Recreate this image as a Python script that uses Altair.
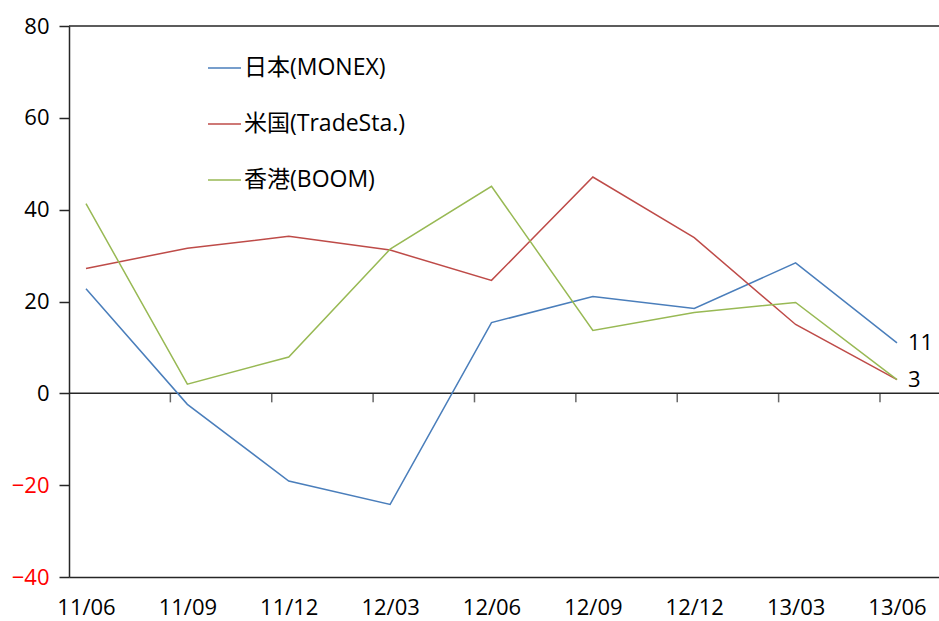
import altair as alt
import pandas as pd

# Quarter labels along the bottom axis
categories = ["11/06", "11/09", "11/12", "12/03", "12/06", "12/09", "12/12", "13/03", "13/06"]

# Series names and values per quarter
series_names = ["日本(MONEX)", "米国(TradeSta.)", "香港(BOOM)"]
japan = [22.8, -2.4, -19.1, -24.2, 15.4, 21.1, 18.5, 28.4, 11]
usa = [27.2, 31.6, 34.2, 31.2, 24.6, 47.1, 33.9, 15.0, 3]
hongkong = [41.3, 2.0, 7.9, 31.4, 45.1, 13.7, 17.6, 19.8, 3]

# Y axis tick values
y_ticks = [-40, -20, 0, 20, 40, 60, 80]

colors = ["#4a7ebb", "#be4b48", "#98b954"]
FONT = "Open Sans, Noto Sans CJK JP, sans-serif"
INK = "#262626"

rows = []
for name, vals in zip(series_names, [japan, usa, hongkong]):
    for i, (c, v) in enumerate(zip(categories, vals)):
        rows.append({"series": name, "cat": c, "idx": i, "value": v})
df = pd.DataFrame(rows)

x_scale = alt.Scale(type="point", domain=categories, padding=0.291, align=0.288)
y_scale = alt.Scale(domain=[y_ticks[0], y_ticks[-1]], nice=False, zero=False)

left_axis = alt.Axis(
    values=y_ticks, grid=False, title=None,
    domainColor=INK, domainWidth=1.5,
    tickColor=INK, tickWidth=1.5, tickSize=10,
    labelFont=FONT, labelFontSize=22, labelPadding=10,
    labelColor=alt.expr("datum.value < 0 ? '#ff0000' : '#000000'"),
)
bottom_axis = alt.Axis(
    ticks=False, grid=False, title=None, labelAngle=0,
    labelAlign="center", labelFlush=False, labelBound=False, labelOverlap=False,
    domainColor=INK, domainWidth=1.5,
    labelFont=FONT, labelFontSize=22, labelPadding=30, labelColor="#000000",
)

base = alt.Chart(df)

lines = base.mark_line(strokeWidth=1.5).encode(
    x=alt.X("cat:N", scale=x_scale, sort=categories, axis=bottom_axis),
    y=alt.Y("value:Q", scale=y_scale, axis=left_axis),
    color=alt.Color("series:N", scale=alt.Scale(domain=series_names, range=colors), legend=None),
    order=alt.Order("idx:Q"),
)

# Frame line at the top of the value range
top_rule = alt.Chart(pd.DataFrame({"v": [y_ticks[-1]]})).mark_rule(
    color=INK, strokeWidth=1.5
).encode(y=alt.Y("v:Q", scale=y_scale))

# Zero line with category ticks hanging below it
zero_rule = alt.Chart(pd.DataFrame({"v": [0]})).mark_rule(
    color=INK, strokeWidth=1.5
).encode(y=alt.Y("v:Q", scale=y_scale))

cat_ticks = alt.Chart(pd.DataFrame({"cat": categories[1:], "v": [0] * (len(categories) - 1)})).mark_tick(
    orient="vertical", size=9, thickness=1.5, color=INK, xOffset=-17, yOffset=4.5
).encode(
    x=alt.X("cat:N", scale=x_scale, sort=categories),
    y=alt.Y("v:Q", scale=y_scale),
)

# Value labels at the last quarter
end_labels = base.transform_filter(
    (alt.datum.cat == categories[-1]) & (alt.datum.series != series_names[2])
).mark_text(align="left", baseline="middle", dx=11, fontSize=22, font=FONT, color="#000000").encode(
    x=alt.X("cat:N", scale=x_scale, sort=categories),
    y=alt.Y("value:Q", scale=y_scale),
    text=alt.Text("value:Q", format="d"),
)

# Hand-placed legend in the upper-left area
legend_layers = []
for i, (name, col) in enumerate(zip(series_names, colors)):
    ly = 42 + 56 * i
    item = alt.Chart(pd.DataFrame({"series": [name]}))
    legend_layers.append(
        item.mark_rule(strokeWidth=1.5, color=col).encode(
            x=alt.value(139), x2=alt.value(172), y=alt.value(ly)
        )
    )
    legend_layers.append(
        item.mark_text(align="left", baseline="middle", fontSize=23, font=FONT, color="#000000").encode(
            x=alt.value(175), y=alt.value(ly), text="series:N"
        )
    )

chart = alt.layer(
    top_rule, zero_rule, cat_ticks, lines, end_labels, *legend_layers
).properties(
    width=870,
    height=551,
    padding={"left": 69, "top": 26, "right": 0, "bottom": 44},
    autosize=alt.AutoSizeParams(type="none"),
    background="#ffffff",
).configure_view(stroke=None)

chart.save("out.html", embed_options={"renderer": "svg", "actions": False})
